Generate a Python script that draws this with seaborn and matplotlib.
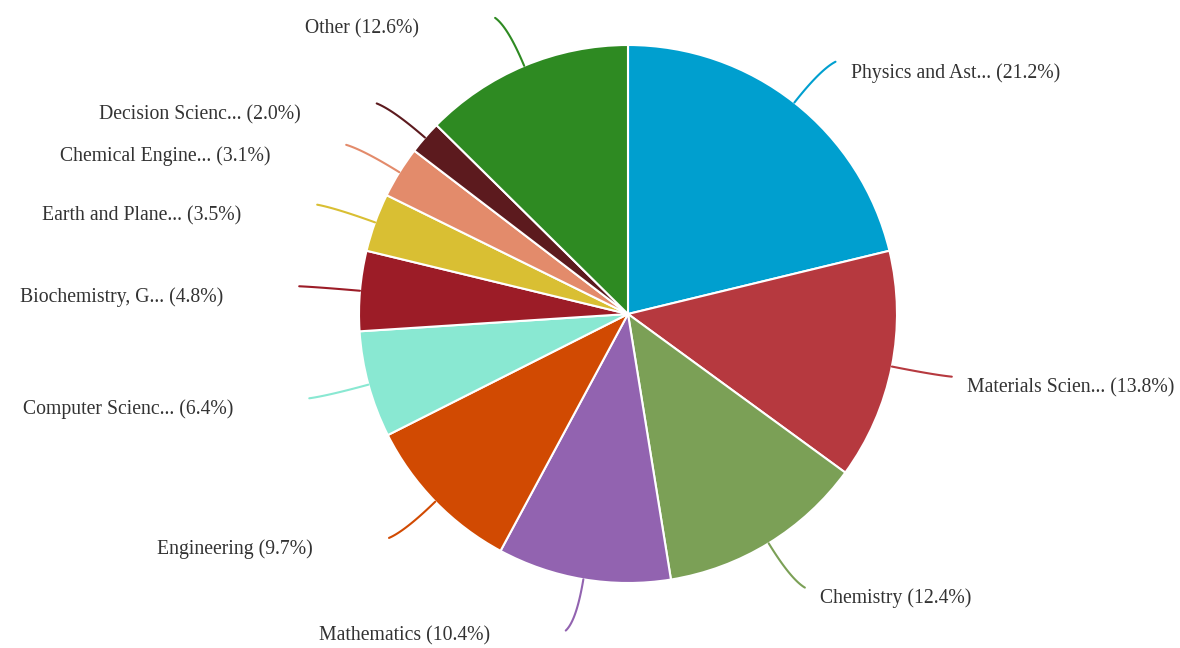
import numpy as np
import matplotlib.pyplot as plt
import seaborn as sns

sns.set_style("white")
plt.rcParams['font.family'] = ['Liberation Serif', 'DejaVu Serif']

# datos del gráfico
etiquetas = ["Physics and Ast...", "Materials Scien...", "Chemistry", "Mathematics",
             "Engineering", "Computer Scienc...", "Biochemistry, G...", "Earth and Plane...",
             "Chemical Engine...", "Decision Scienc...", "Other"]
porcentajes = [21.2, 13.8, 12.4, 10.4, 9.7, 6.4, 4.8, 3.5, 3.1, 2.0, 12.6]
colores = ["#009fcf", "#b6393f", "#7ba056", "#9263b0", "#d14a02", "#89e8d2",
           "#9c1c27", "#d9bf33", "#e38b6b", "#5c1a1e", "#2e8a22"]

W, H = 1180, 648
cx, cy, r = 628, H - 314, 269

fig = plt.figure(figsize=(W / 100, H / 100), dpi=100)
ax = fig.add_axes([0, 0, 1, 1])

ax.pie(porcentajes, colors=colores, startangle=90, counterclock=False,
       center=(cx, cy), radius=r, frame=False,
       wedgeprops=dict(edgecolor='white', linewidth=1.5))

# líneas guía curvas y etiquetas
acum = np.cumsum([0] + porcentajes[:-1])
total = sum(porcentajes)
for nombre, p, c, a0 in zip(etiquetas, porcentajes, colores, acum):
    ang = np.deg2rad((a0 + p / 2) / total * 360)
    d = np.array([np.sin(ang), np.cos(ang)])
    lado = 1 if d[0] >= 0 else -1
    p0 = np.array([cx, cy]) + r * d
    p1 = np.array([cx, cy]) + (r + 42) * d
    p2 = np.array([cx, cy]) + (r + 52) * d + np.array([lado * 9, 0])
    t = np.linspace(0, 1, 30)[:, None]
    curva = (1 - t) ** 2 * p0 + 2 * (1 - t) * t * p1 + t ** 2 * p2
    ax.plot(curva[:, 0], curva[:, 1], color=c, lw=1.5, solid_capstyle='round')
    texto = f"{nombre} ({p}%)"
    ty = max(p2[1] - 11, 12)  # que no se corte abajo
    if lado > 0:
        ax.text(p2[0] + 15, ty, texto, ha='left', va='center',
                fontsize=14.2, color='#333333')
    else:
        ax.text(p2[0] - 76, ty, texto, ha='right', va='center',
                fontsize=14.2, color='#333333')

ax.set_xlim(0, W)
ax.set_ylim(0, H)
ax.set_aspect('equal')
ax.axis('off')

fig.savefig("out.png", dpi=100, facecolor='white')
